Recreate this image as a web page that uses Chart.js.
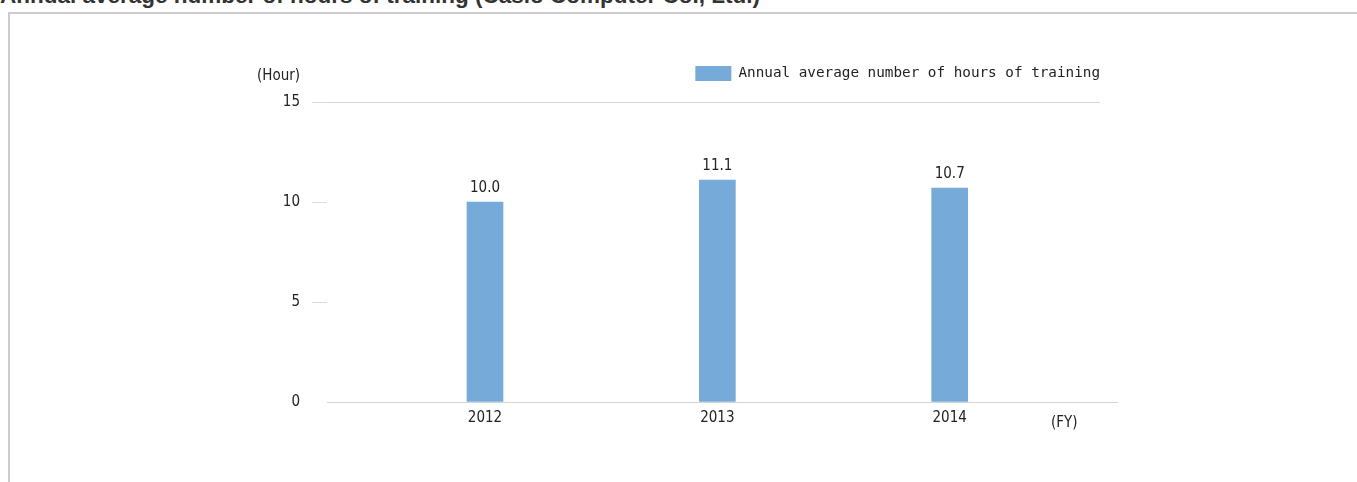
<!DOCTYPE html>
<html>
<head>
<meta charset="utf-8">
<script src="https://cdn.jsdelivr.net/npm/chart.js@4.4.0/dist/chart.umd.min.js"></script>
<style>
body { margin: 0; background: #fff; overflow: hidden; }
#title { position: absolute; left: 0; top: -15px; font: bold 22.5px "Liberation Sans", Arial, sans-serif; line-height: 22.5px; color: #333; white-space: nowrap; }
#box { position: absolute; left: 8px; top: 12px; width: 1400px; height: 520px; border: 2px solid #cccccc; }
#myChart { position: absolute; left: 0; top: 0; }
.unit { position: absolute; font: 15px "DejaVu Sans Condensed", "DejaVu Sans", sans-serif; color: #222; }
</style>
</head>
<body>
<div id="title">Annual average number of hours of training (Casio Computer Co., Ltd.)</div>
<div id="box"></div>
<canvas id="myChart" width="1357" height="482"></canvas>
<div class="unit" style="left:257px; top:66px;">(Hour)</div>
<div class="unit" style="left:1051px; top:413px;">(FY)</div>
<script>
const years = [2012, 2013, 2014];
const hours = [10.0, 11.1, 10.7];
const yTicks = [0, 5, 10, 15];
const seriesName = 'Annual average number of hours of training';

const tickFont = { family: '"DejaVu Sans Condensed", "DejaVu Sans", sans-serif', size: 15 };

// value text above each bar
const valueLabels = {
    id: 'valueLabels',
    afterDatasetsDraw(chart) {
        const ctx = chart.ctx;
        const meta = chart.getDatasetMeta(0);
        ctx.save();
        ctx.font = '15px "DejaVu Sans Condensed", "DejaVu Sans", sans-serif';
        ctx.fillStyle = '#222';
        ctx.textAlign = 'center';
        ctx.textBaseline = 'bottom';
        meta.data.forEach((bar, i) => ctx.fillText(hours[i].toFixed(1), bar.x, bar.y - 6));
        ctx.restore();
    }
};

// only the top gridline runs across the plot
const topLine = {
    id: 'topLine',
    beforeDatasetsDraw(chart) {
        const ctx = chart.ctx;
        const y = Math.round(chart.scales.y.getPixelForValue(yTicks[yTicks.length - 1])) + 0.5;
        ctx.save();
        ctx.strokeStyle = '#d4d4d4';
        ctx.lineWidth = 1;
        ctx.beginPath();
        ctx.moveTo(chart.chartArea.left, y);
        ctx.lineTo(chart.chartArea.right - 17, y);
        ctx.stroke();
        ctx.restore();
    }
};

// legend height so the plot starts at the right place
const legendSize = {
    id: 'legendSize',
    beforeInit(chart) {
        const fit = chart.legend.fit;
        chart.legend.fit = function () {
            fit.call(this);
            this.height = 53;
        };
    }
};

var ctx = document.getElementById('myChart');
var chart = new Chart(ctx, {
    type: 'bar',
    data: {
        datasets: [
            {
                label: seriesName,
                data: years.map((y, i) => ({ x: y, y: hours[i] })),
                backgroundColor: '#76aad9',
                borderWidth: 0,
                barThickness: 36,
            },
        ],
    },
    options: {
        responsive: false,
        animation: false,
        layout: { padding: { top: 49, right: 240, left: 0, bottom: 0 } },
        scales: {
            x: {
                type: 'linear',
                offset: false,
                min: 2011.32,
                max: 2014.72,
                afterBuildTicks: (scale) => { scale.ticks = years.map(v => ({ value: v })); },
                afterFit: (scale) => { scale.height = 80; },
                ticks: { callback: (v) => String(v), color: '#222', font: tickFont, padding: 7, maxRotation: 0 },
                grid: { drawOnChartArea: false, drawTicks: false, offset: false },
                border: { display: true, color: '#d4d4d4', width: 1 },
            },
            y: {
                min: 0,
                max: 15,
                afterBuildTicks: (scale) => { scale.ticks = yTicks.map(v => ({ value: v })); },
                afterFit: (scale) => { scale.width = 327; },
                ticks: { color: '#222', font: tickFont, padding: 12 },
                grid: {
                    drawOnChartArea: false,
                    drawTicks: true,
                    tickLength: 15,
                    tickColor: (c) => (c.tick && c.tick.value === 0 ? 'rgba(0,0,0,0)' : '#dcdcdc'),
                },
                border: { display: false },
            },
        },
        plugins: {
            legend: {
                position: 'top',
                align: 'end',
                labels: {
                    boxWidth: 36,
                    boxHeight: 15,
                    padding: 17,
                    color: '#222',
                    font: { family: '"DejaVu Sans Mono", "Liberation Mono", monospace', size: 14.3 },
                },
            },
            tooltip: { enabled: false },
        },
    },
    plugins: [valueLabels, topLine, legendSize],
});
</script>
</body>
</html>
